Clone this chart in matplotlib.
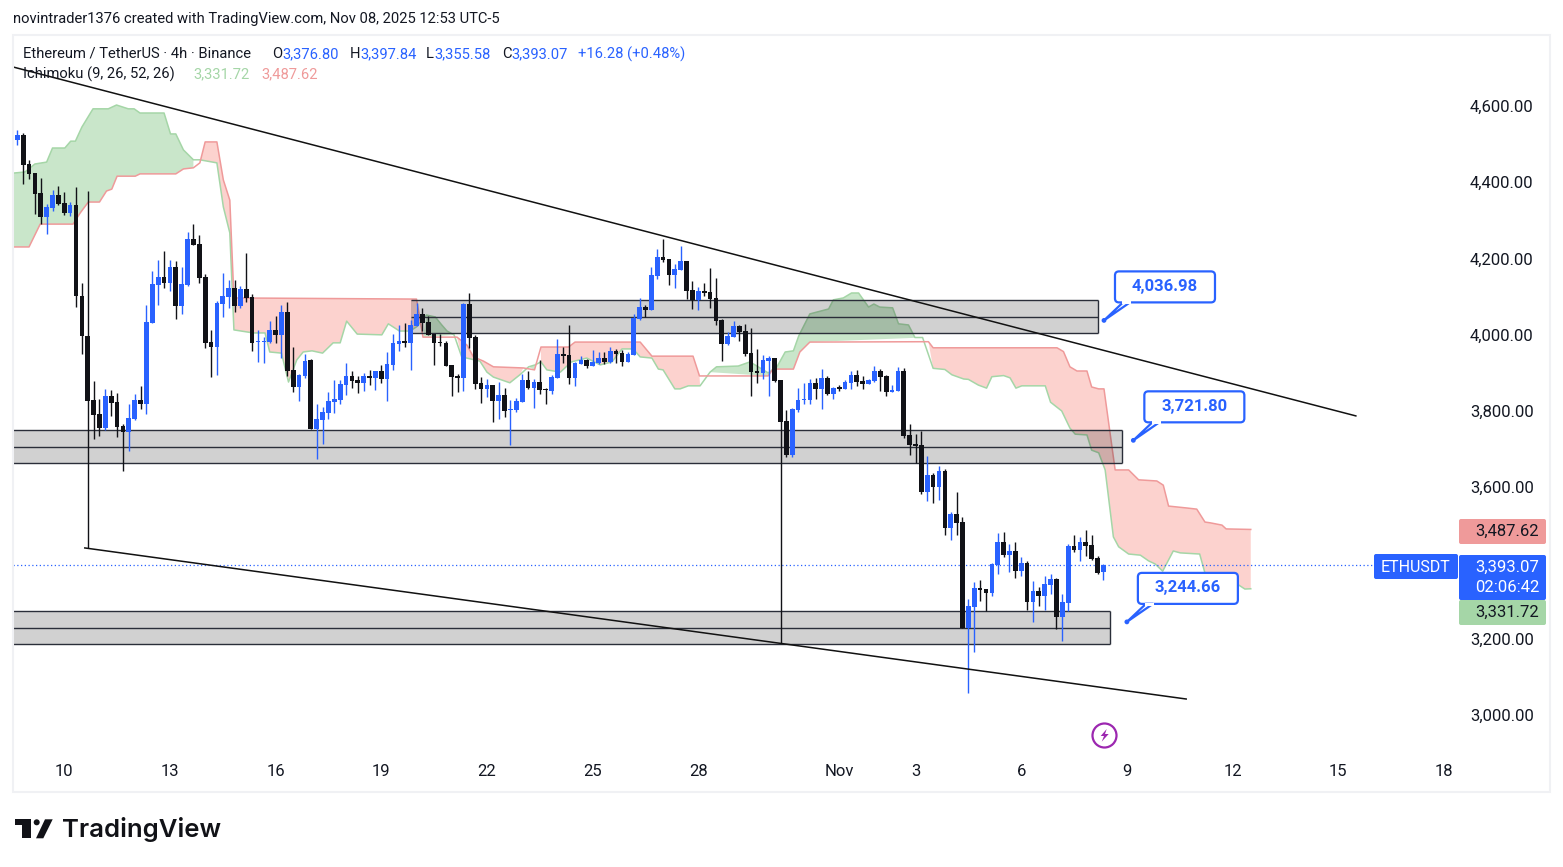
import numpy as np
import matplotlib
matplotlib.use('Agg')
import matplotlib.pyplot as plt
from matplotlib.patches import FancyBboxPatch, Polygon, Circle, Rectangle

plt.rcParams['font.family'] = ['Roboto', 'DejaVu Sans']

# 4h candles, first one is cut by the left edge of the pane
opens = [4446, 4511, 4524, 4448, 4424, 4371, 4309, 4333, 4367, 4345, 4320, 4341, 4101, 3996, 3828, 3791, 3755, 3839, 3823, 3760,
         3744, 3778, 3828, 3818, 4031, 4130, 4151, 4136, 4178, 4075, 4130, 4251, 4238, 4151, 3981, 3967, 4080, 4099, 4122, 4075,
         4120, 4099, 3979, 3981, 3981, 4012, 3999, 4059, 3907, 3862, 3891, 3933, 3752, 3775, 3794, 3823, 3828, 3867, 3891, 3880,
         3872, 3891, 3886, 3904, 3883, 3920, 3975, 3983, 3978, 4022, 4054, 4033, 4001, 3979, 3978, 3920, 3891, 3886, 4080, 3993,
         3872, 3857, 3867, 3825, 3841, 3802, 3802, 3823, 3880, 3859, 3875, 3857, 3852, 3886, 3949, 3946, 3886, 3922, 3933, 3917,
         3925, 3938, 3928, 3957, 3951, 3928, 3946, 4041, 4072, 4064, 4154, 4204, 4198, 4156, 4169, 4193, 4117, 4091, 4114, 4112,
         4096, 4038, 3975, 3993, 4022, 4009, 3951, 3904, 3899, 3930, 3938, 3880, 3773, 3683, 3801, 3829, 3828, 3872, 3857, 3886,
         3844, 3861, 3857, 3872, 3894, 3878, 3870, 3878, 3904, 3891, 3849, 3851, 3904, 3736, 3712, 3710, 3586, 3631, 3599, 3641,
         3491, 3528, 3507, 3228, 3284, 3334, 3331, 3321, 3394, 3455, 3420, 3431, 3378, 3399, 3297, 3326, 3313, 3342, 3357, 3257,
         3294, 3444, 3434, 3455, 3447, 3412, 3377]
highs = [4516, 4538, 4529, 4459, 4424, 4411, 4343, 4380, 4391, 4375, 4349, 4387, 4135, 4377, 3878, 3831, 3857, 3854, 3847, 3765,
         3818, 3844, 3865, 4078, 4167, 4196, 4220, 4196, 4193, 4178, 4270, 4291, 4262, 4159, 4012, 4088, 4162, 4144, 4144, 4128,
         4214, 4107, 4012, 3994, 4036, 4049, 4078, 4086, 3967, 3896, 3949, 3936, 3817, 3809, 3849, 3880, 3880, 3925, 3904, 3891,
         3899, 3907, 3904, 3920, 3954, 4001, 4025, 4030, 4038, 4083, 4070, 4049, 4001, 4001, 3983, 3920, 3896, 4083, 4109, 3999,
         3888, 3883, 3867, 3875, 3859, 3828, 3833, 3896, 3904, 3883, 3933, 3859, 3894, 3988, 3967, 4025, 3928, 3943, 3936, 3959,
         3954, 3954, 3967, 3962, 3959, 3954, 4054, 4096, 4078, 4177, 4225, 4251, 4198, 4185, 4233, 4193, 4141, 4125, 4135, 4175,
         4148, 4041, 4006, 4035, 4025, 4028, 4017, 3962, 3946, 3943, 3938, 3880, 3802, 3807, 3859, 3872, 3883, 3886, 3909, 3891,
         3862, 3867, 3880, 3904, 3907, 3891, 3883, 3917, 3909, 3893, 3867, 3915, 3912, 3765, 3738, 3747, 3681, 3636, 3654, 3646,
         3533, 3586, 3520, 3305, 3349, 3355, 3331, 3399, 3478, 3481, 3449, 3455, 3415, 3405, 3352, 3336, 3365, 3370, 3360, 3318,
         3449, 3473, 3468, 3486, 3473, 3418, 3398]
lows = [4446, 4498, 4396, 4408, 4317, 4290, 4264, 4325, 4341, 4314, 4312, 4073, 3949, 3439, 3726, 3734, 3748, 3786, 3731, 3642,
        3694, 3776, 3805, 3791, 4031, 4078, 4122, 4115, 4041, 4054, 4128, 4235, 4136, 3965, 3889, 3894, 4046, 4070, 4059, 4070,
        4086, 3957, 3928, 3925, 3978, 3978, 3938, 3891, 3849, 3825, 3886, 3752, 3673, 3712, 3778, 3794, 3817, 3841, 3859, 3846,
        3852, 3867, 3854, 3872, 3825, 3907, 3957, 3967, 3907, 4022, 4009, 3999, 3920, 3970, 3917, 3838, 3849, 3851, 3965, 3857,
        3820, 3836, 3770, 3778, 3783, 3710, 3796, 3823, 3857, 3807, 3844, 3817, 3844, 3886, 3925, 3870, 3865, 3922, 3912, 3917,
        3922, 3922, 3925, 3925, 3917, 3928, 3946, 4038, 4046, 4064, 4146, 4190, 4130, 4122, 4169, 4093, 4067, 4064, 4101, 4070,
        4025, 3930, 3972, 3993, 3983, 3943, 3838, 3872, 3883, 3838, 3875, 3189, 3678, 3678, 3796, 3817, 3817, 3830, 3804, 3841,
        3830, 3851, 3857, 3857, 3865, 3857, 3870, 3875, 3851, 3838, 3849, 3851, 3728, 3683, 3661, 3581, 3562, 3557, 3565, 3473,
        3460, 3473, 3228, 3058, 3166, 3300, 3272, 3313, 3370, 3415, 3376, 3360, 3365, 3276, 3244, 3286, 3276, 3318, 3226, 3194,
        3272, 3428, 3405, 3418, 3407, 3370, 3356]
closes = [4480, 4524, 4446, 4422, 4370, 4310, 4334, 4367, 4343, 4320, 4341, 4100, 3995, 3826, 3789, 3755, 3839, 3820, 3757, 3744,
          3781, 3828, 3818, 4033, 4133, 4151, 4136, 4178, 4075, 4133, 4251, 4235, 4149, 3978, 3967, 4083, 4101, 4122, 4075, 4120,
          4096, 3978, 3981, 3983, 4012, 3999, 4059, 3904, 3862, 3894, 3931, 3752, 3778, 3796, 3825, 3830, 3870, 3891, 3878, 3872,
          3891, 3886, 3904, 3883, 3922, 3978, 3983, 3978, 4025, 4054, 4030, 3999, 3978, 3978, 3917, 3888, 3886, 4080, 3991, 3870,
          3857, 3867, 3825, 3841, 3799, 3804, 3825, 3880, 3859, 3875, 3854, 3854, 3888, 3949, 3943, 3886, 3925, 3933, 3917, 3928,
          3938, 3928, 3957, 3949, 3928, 3949, 4043, 4072, 4064, 4156, 4204, 4196, 4156, 4172, 4193, 4114, 4091, 4114, 4109, 4093,
          4035, 3975, 3996, 4022, 4006, 3949, 3901, 3899, 3933, 3938, 3878, 3770, 3683, 3804, 3828, 3830, 3872, 3857, 3886, 3844,
          3859, 3858, 3875, 3894, 3875, 3870, 3880, 3904, 3888, 3849, 3854, 3904, 3733, 3710, 3707, 3586, 3631, 3599, 3641, 3491,
          3528, 3505, 3228, 3286, 3334, 3328, 3321, 3397, 3455, 3420, 3431, 3378, 3399, 3297, 3326, 3313, 3344, 3357, 3257, 3297,
          3444, 3434, 3455, 3444, 3410, 3373, 3393.07]

# ichimoku spans, read at their corners (candle index, price)
span_a_idx = [-0.73, 1.3, 3.0, 5.0, 6.0, 8.1, 9.1, 9.9, 11.0, 12.9, 15.5, 16.9, 18.9, 19.9, 20.9, 25.0, 26.1, 27.0, 28.3, 30.0,
              31.1, 34.0, 35.1, 36.2, 36.9, 40.2, 42.2, 43.0, 45.0, 46.2, 47.6, 48.7, 50.2, 52.0, 53.8, 55.0, 56.1, 57.9, 62.1, 63.2,
              65.1, 66.9, 68.0, 69.7, 71.2, 72.3, 73.2, 74.4, 75.7, 78.8, 80.0, 81.1, 83.9, 85.6, 87.1, 88.2, 89.2, 90.2, 92.5, 94.4,
              97.0, 99.3, 101.3, 103.0, 104.9, 106.1, 108.1, 109.2, 110.0, 112.0, 112.9, 114.3, 116.3, 118.0, 119.1, 122.8, 124.8,
              127.9, 129.4, 130.8, 132.2, 133.1, 135.0, 138.2, 139.0, 140.7, 142.1, 143.3, 145.0, 145.9, 146.9, 149.1, 150.1, 151.8,
              152.9, 154.2, 156.0, 158.0, 159.2, 161.2, 162.0, 163.7, 165.1, 166.0, 168.0, 169.1, 170.1, 171.1, 175.1, 176.0, 177.9,
              179.3, 180.2, 182.2, 183.0, 184.2, 185.3, 186.7, 187.6, 189.3, 191.3, 192.7, 193.8, 195.1, 196.9, 198.1, 201.4, 202.3,
              208.0, 209.1, 210.1]
span_a = [4424, 4427, 4448, 4453, 4490, 4490, 4508, 4508, 4545, 4593, 4593, 4603, 4593, 4593, 4582, 4582, 4527, 4527, 4485, 4459,
          4459, 4451, 4335, 4267, 4012, 4004, 4004, 3954, 3951, 3875, 3933, 3954, 3957, 3951, 3978, 3978, 4035, 4001, 3999, 4028,
          4009, 4009, 4020, 4051, 4046, 4025, 4009, 3999, 3941, 3930, 3901, 3888, 3873, 3894, 3915, 3920, 3928, 3907, 3901, 3928,
          3938, 3920, 3928, 3962, 3962, 3941, 3938, 3909, 3907, 3857, 3857, 3865, 3865, 3901, 3915, 3917, 3928,
          3899, 3915, 3954, 3957, 3996, 4054, 4067, 4091, 4096, 4109, 4109, 4072, 4080, 4072, 4070, 4028, 4025,
          3992, 3992, 3911, 3908, 3894, 3883, 3882, 3867, 3859, 3889, 3892, 3886, 3859, 3865, 3865, 3822, 3799,
          3754, 3738, 3736, 3696, 3689, 3644, 3468, 3442, 3423, 3420, 3405, 3397, 3378, 3431, 3426, 3423, 3373,
          3342, 3331, 3331.72]
span_b_idx = [-0.73, 2.0, 3.9, 9.5, 10.7, 12.1, 14.0, 15.2, 16.1, 17.0, 20.1, 20.9, 27.0, 28.3, 30.0, 31.1, 32.0, 34.0, 35.1, 36.2,
              36.9, 68.0, 69.1, 74.9, 76.6, 77.7, 79.4, 81.1, 86.2, 88.1, 89.2, 93.9, 95.0, 106.1, 108.1, 115.1, 116.2, 127.9, 128.7,
              132.2, 133.3, 135.0, 155.2, 156.0, 177.1, 178.2, 179.3, 180.5, 182.2, 183.0, 184.2, 185.1, 187.0, 189.3, 191.0, 194.1,
              195.2, 196.1, 199.2, 200.9, 202.3, 203.2, 205.2, 205.9, 210.1]
span_b = [4230, 4230, 4290, 4290, 4319, 4348, 4348, 4377, 4382, 4416, 4416, 4422, 4422, 4435, 4438, 4451, 4506, 4506, 4406, 4353,
          4096, 4093, 3993, 3993, 3972, 3941, 3930, 3915, 3912, 3907, 3967, 3967, 3980, 3980, 3943, 3943, 3891, 3891, 3909,
          3909, 3954, 3980, 3981, 3965, 3965, 3955, 3915, 3904, 3904, 3862, 3857, 3857, 3644, 3644, 3618, 3615,
          3604, 3549, 3544, 3541, 3507, 3505, 3499, 3489, 3487.62]
# candle index where the spans cross
cloud_cross = [-0.73, 30.8, 68.6, 74.6, 78.8, 86.9, 88.5, 117.5, 154.6, 210.1]

zone_top = [4090, 3749, 3273]
zone_mid = [4045, 3703, 3228]
zone_bot = [4003, 3661, 3186]
zone_start = [67.1, -0.73, -0.73]
zone_end = [184.1, 188.2, 186.1]

trend_x = [[-0.73, 228.0], [11.5, 199.1]]
trend_y = [[4703, 3786], [3439, 3042]]

callout_idx = [185.1, 190.1, 189.0]
callout_price = [4036.98, 3721.80, 3244.66]

price_ticks = [3000, 3200, 3600, 3800, 4000, 4200, 4400, 4600]
date_ticks = [8, 26, 44, 62, 80, 98, 116, 140, 153, 171, 189, 207, 225, 243]
date_labels = ['10', '13', '16', '19', '22', '25', '28', 'Nov', '3', '6', '9', '12', '15', '18']

BLUE = '#2962ff'
BLACK = '#111217'
TXT = '#131722'
GREEN_L = '#a5d6a7'
RED_L = '#ef9a9a'

W, H = 1563, 867
fig = plt.figure(figsize=(W / 100, H / 100), dpi=100, facecolor='white')
ax = fig.add_axes([13 / W, (H - 757) / H, (1458 - 13) / W, (757 - 35) / H])
ax.set_xlim(-0.73, 245.4)
ax.set_ylim(2889.6, 4787)
for s in ax.spines.values():
    s.set_visible(False)

# cloud
a_x = np.array(span_a_idx)
a_y = np.array(span_a)
b_x = np.array(span_b_idx)
b_y = np.array(span_b)
for k in range(len(cloud_cross) - 1):
    lo, hi = cloud_cross[k], cloud_cross[k + 1]
    ma = (a_x >= lo) & (a_x <= hi)
    mb = (b_x >= lo) & (b_x <= hi)
    pts = np.vstack([np.column_stack([a_x[ma], a_y[ma]]),
                     np.column_stack([b_x[mb], b_y[mb]])[::-1]])
    green = k in (0, 2, 5, 7)
    ax.add_patch(Polygon(pts, closed=True, lw=0, zorder=1,
                         facecolor='#4caf50' if green else '#f44336', alpha=0.3 if green else 0.24))
ax.plot(a_x, a_y, color=GREEN_L, lw=1.1, zorder=1.5)
ax.plot(b_x, b_y, color=RED_L, lw=1.1, zorder=1.5)

# grey zones
for t, m, b, x0, x1 in zip(zone_top, zone_mid, zone_bot, zone_start, zone_end):
    ax.add_patch(Rectangle((x0, b), x1 - x0, t - b, facecolor='#000004', alpha=0.18, lw=0, zorder=2))
    ax.hlines([t, m, b], x0, x1, color='#2a2e39', lw=1.0, zorder=2.2)
    ax.vlines(x1, b, t, color='#2a2e39', lw=1.0, zorder=2.2)

# candles
xs = np.arange(-1, len(opens) - 1)
o = np.array(opens, dtype=float)
c = np.array(closes, dtype=float)
colors = [BLUE if cl >= op else BLACK for op, cl in zip(opens, closes)]
ax.vlines(xs, lows, highs, colors=colors, lw=1.0, zorder=3)
ax.bar(xs, np.maximum(np.abs(c - o), 2.6), bottom=np.minimum(o, c), width=0.8, color=colors, lw=0, zorder=3.1)

# trend lines and last price
for tx, ty in zip(trend_x, trend_y):
    ax.plot(tx, ty, color='#111111', lw=1.1, zorder=4)
ax.axhline(closes[-1], color=BLUE, lw=0.9, ls=(0, (1, 2)), zorder=1.8)

ax.yaxis.tick_right()
ax.set_yticks(price_ticks, [f'{v:,.2f}' for v in price_ticks])
ax.set_xticks(date_ticks, date_labels)
ax.tick_params(axis='y', length=0, pad=8.5, labelsize=12, labelcolor=TXT)
ax.tick_params(axis='x', length=0, pad=5, labelsize=12, labelcolor=TXT)

# overlay in pixels for the tradingview chrome
ui = fig.add_axes([0, 0, 1, 1], zorder=10)
ui.set_xlim(0, W)
ui.set_ylim(H, 0)
ui.axis('off')
ui.patch.set_alpha(0)


def label(x, y, s, color=TXT, size=10.2, ha='left', weight='normal'):
    ui.text(x, y, s, color=color, fontsize=size, ha=ha, va='center', fontweight=weight)


ui.add_patch(Rectangle((13, 34.5), 1537, 757.5, fill=False, ec='#f0f1f4', lw=1.5))
label(13, 19.5, 'novintrader1376 created with TradingView.com, Nov 08, 2025 12:53 UTC-5', size=10.6)

label(23, 54, 'Ethereum / TetherUS · 4h · Binance', size=10.6)
for lx, vx, letter, val in zip([272, 350, 426, 502], [282, 360, 434, 511], 'OHLC',
                               ['3,376.80', '3,397.84', '3,355.58', '3,393.07']):
    label(lx, 54, letter, size=10.6)
    label(vx, 54, val, color=BLUE, size=10.6)
label(578, 54, '+16.28 (+0.48%)', color=BLUE, size=10.6)
label(23, 74, 'Ichimoku (9, 26, 52, 26)', size=10.6)
label(193, 74, '3,331.72', color=GREEN_L, size=10.6)
label(261, 74, '3,487.62', color=RED_L, size=10.6)

# callouts hang off their anchor price
for ci, cp in zip(callout_idx, callout_price):
    dx, dy = ax.transData.transform((ci, cp))
    px, py = dx, H - dy
    bx, by = px + 11, py - 49
    ui.add_patch(FancyBboxPatch((bx, by), 100, 31, boxstyle='round,pad=0,rounding_size=4',
                                fc='white', ec=BLUE, lw=1.6, zorder=5))
    ui.add_patch(Polygon([(px, py), (bx + 8, by + 31), (bx + 15, by + 31)], closed=True,
                         fc='white', ec=BLUE, lw=1.6, zorder=5.1))
    ui.plot([bx + 8.5, bx + 14.5], [by + 31, by + 31], color='white', lw=2.2, zorder=5.2)
    ui.add_patch(Circle((px, py), 2.4, fc=BLUE, ec=BLUE, lw=0, zorder=5.3))
    label(bx + 50, by + 15, f'{cp:,.2f}', color=BLUE, size=12, ha='center', weight='bold')
    ui.texts[-1].set_zorder(6)

# price tags
ui.add_patch(FancyBboxPatch((1374, 554), 84, 25, boxstyle='round,pad=0,rounding_size=2', fc=BLUE, lw=0))
label(1416, 567, 'ETHUSDT', color='white', size=11.5, ha='center')
ui.add_patch(FancyBboxPatch((1459, 519), 87, 25, boxstyle='round,pad=0,rounding_size=2', fc=RED_L, lw=0))
label(1539, 531, '3,487.62', size=12, ha='right')
ui.add_patch(FancyBboxPatch((1459, 600), 87, 25, boxstyle='round,pad=0,rounding_size=2', fc=GREEN_L, lw=0))
label(1539, 612, '3,331.72', size=12, ha='right')
ui.add_patch(FancyBboxPatch((1459, 555), 87, 45, boxstyle='round,pad=0,rounding_size=2', fc=BLUE, lw=0))
label(1539, 567, '3,393.07', color='white', size=12, ha='right')
label(1539, 587, '02:06:42', color='white', size=12, ha='right')

# lightning marker
ui.add_patch(Circle((1104.5, 735.5), 12, fill=False, ec='#9c27b0', lw=1.6))
ui.add_patch(Polygon([(1106.7, 729), (1100.7, 736), (1104, 736), (1101.7, 741.7), (1108.7, 734), (1105, 734)],
                     closed=True, fc='#9c27b0', lw=0))

# tradingview logo
ui.add_patch(Polygon([(15.3, 819.3), (30.7, 819.3), (30.7, 838.3), (22, 838.3), (22, 825), (15.3, 825)],
                     closed=True, fc=BLACK, lw=0))
ui.add_patch(Circle((36.7, 822.3), 3, fc=BLACK, lw=0))
ui.add_patch(Polygon([(45, 819.3), (52.7, 819.3), (43.3, 838.3), (36, 838.3)], closed=True, fc=BLACK, lw=0))
ui.text(62, 829.5, 'TradingView', color=BLACK, fontsize=18.5, family='Inter', fontweight='semibold', va='center')

fig.savefig('out.png', dpi=100)
